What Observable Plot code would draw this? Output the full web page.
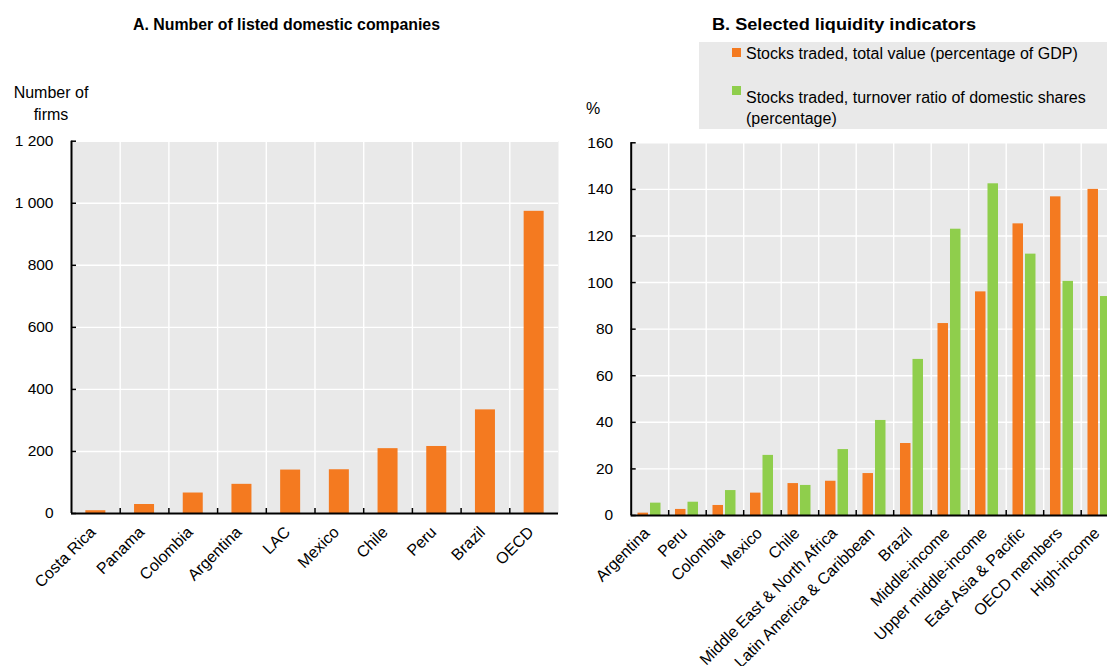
<!DOCTYPE html>
<html>
<head>
<meta charset="utf-8">
<script src="https://cdn.jsdelivr.net/npm/d3@7"></script>
<script src="https://cdn.jsdelivr.net/npm/@observablehq/plot@0.6"></script>
<style>
  html, body { margin: 0; padding: 0; }
  body { width: 1107px; height: 666px; overflow: hidden; position: relative; background: #fff;
         font-family: "Liberation Sans", Arial, sans-serif; color: #000; }
  .abs { position: absolute; white-space: nowrap; }
  .title { font-family: "Liberation Sans", Arial, sans-serif;
           font-weight: bold; font-size: 16px; line-height: 16px; transform-origin: 0 0; }
  .lbl { font-size: 16px; line-height: 16px; }
  .plotwrap { position: absolute; top: 0; }
  .plotwrap svg { max-width: none !important; display: block; }
</style>
</head>
<body>
<div id="titleA" class="abs title" style="left:133px; top:17px;" data-w="307">A. Number of listed domestic companies</div>
<div id="titleB" class="abs title" style="left:712px; top:17px;" data-w="264">B. Selected liquidity indicators</div>
<div class="abs" style="left:699px; top:42px; width:420px; height:87px; background:#e9e9e9;"></div>
<div id="legend"></div>
<div class="abs lbl" style="left:0px; width:102px; top:81.5px; line-height:22px; text-align:center;">Number of<br>firms</div>
<div class="abs lbl" style="left:586px; top:101px;">%</div>
<div id="chartA" class="plotwrap" style="left:0px;"></div>
<div id="chartB" class="plotwrap" style="left:580px;"></div>
<script>
// ---------- Data ----------
const categoriesA = ["Costa Rica", "Panama", "Colombia", "Argentina", "LAC", "Mexico", "Chile", "Peru", "Brazil", "OECD"];
const listedCompanies = [9, 29, 66, 94, 140, 141, 209, 216, 334, 974];
const yTicksA = [0, 200, 400, 600, 800, 1000, 1200];
const yTickLabelsA = ["0", "200", "400", "600", "800", "1 000", "1 200"];

const categoriesB = ["Argentina", "Peru", "Colombia", "Mexico", "Chile", "Middle East & North Africa",
  "Latin America & Caribbean", "Brazil", "Middle-income", "Upper middle-income",
  "East Asia & Pacific", "OECD members", "High-income"];
const totalValueGDP = [1.0, 2.6, 4.3, 9.6, 13.7, 14.7, 18.0, 30.9, 82.4, 96.0, 125.2, 136.8, 140.0];
const turnoverRatio = [5.3, 5.7, 10.7, 25.8, 12.9, 28.3, 40.8, 67.0, 122.9, 142.4, 112.2, 100.5, 94.0];
const yTicksB = [0, 20, 40, 60, 80, 100, 120, 140, 160];
const seriesNames = ["Stocks traded, total value (percentage of GDP)",
  "Stocks traded, turnover ratio of domestic shares (percentage)"];

// ---------- Style ----------
const ORANGE = "#f47a20", GREEN = "#8fce4c", GRAY = "#e9e9e9";
const FONT = "'Liberation Sans', Arial, sans-serif";

// ---------- Titles (condensed to match the narrow face) ----------
for (const id of ["titleA", "titleB"]) {
  const el = document.getElementById(id);
  const w = el.getBoundingClientRect().width;
  el.style.transform = `scaleX(${(+el.dataset.w) / w})`;
}

// ---------- Legend ----------
const legend = document.getElementById("legend");
legend.innerHTML = `
  <div class="abs" style="left:732px; top:48px; width:9px; height:9px; background:${ORANGE}"></div>
  <div class="abs lbl" style="left:746px; top:46px;">${seriesNames[0]}</div>
  <div class="abs" style="left:732px; top:86px; width:9px; height:9px; background:${GREEN}"></div>
  <div class="abs" style="left:746px; top:86.5px; font-size:16px; line-height:21.5px; white-space:normal; width:360px;">${seriesNames[1]}</div>
`;

// ---------- Panel A ----------
const dataA = categoriesA.map((c, i) => ({cat: c, value: listedCompanies[i]}));
const mlA = 71, wA = 487, mtA = 140.7, mbA = 153, HT = 666;
const hA = HT - mtA - mbA;
const stepA = wA / categoriesA.length;
const barW_A = 20;
const insA = (stepA - barW_A) / 2;

const plotA = Plot.plot({
  width: mlA + wA + 12, height: HT,
  marginLeft: mlA, marginRight: 12, marginTop: mtA, marginBottom: mbA,
  style: {fontFamily: FONT, fontSize: "15px", background: "transparent", overflow: "visible"},
  x: {domain: categoriesA, padding: 0, round: false, label: null},
  y: {domain: [0, 1200], label: null},
  marks: [
    Plot.frame({fill: GRAY, stroke: null}),
    Plot.gridY(yTicksA, {stroke: "#fff", strokeOpacity: 1, strokeWidth: 1.4}),
    Plot.tickX(categoriesA.slice(1), {x: d => d, dx: -stepA / 2, stroke: "#fff", strokeWidth: 1.4}),
    Plot.barY(dataA, {x: "cat", y: "value", fill: ORANGE, insetLeft: insA, insetRight: insA}),
    Plot.tickX(categoriesA.slice(1), {x: d => d, dx: -stepA / 2, stroke: "#000", strokeWidth: 1.5, insetTop: hA - 5}),
    Plot.tickY(yTicksA, {y: d => d, stroke: "#000", strokeWidth: 1.5, insetRight: wA - 5}),
    Plot.ruleY([0], {stroke: "#000", strokeWidth: 2}),
    Plot.tickX([categoriesA[0]], {x: d => d, dx: -stepA / 2, stroke: "#000", strokeWidth: 2}),
    Plot.axisY({ticks: yTicksA, tickSize: 0, tickPadding: 18, label: null,
      tickFormat: d => yTickLabelsA[yTicksA.indexOf(d)], fontSize: 15.5}),
    Plot.axisX({tickSize: 0, tickPadding: 16, dx: -3, tickRotate: -45, label: null, fontSize: 16})
  ]
});
document.getElementById("chartA").append(plotA);

// ---------- Panel B ----------
const dataB = categoriesB.map((c, i) => ({cat: c, total: totalValueGDP[i], turnover: turnoverRatio[i]}));
const mlB = 50.7, stepB = 37.5, wB = stepB * categoriesB.length, mtB = 142.3, mbB = 151;
const hB = HT - mtB - mbB;

const plotB = Plot.plot({
  width: mlB + wB + 10, height: HT,
  marginLeft: mlB, marginRight: 10, marginTop: mtB, marginBottom: mbB,
  style: {fontFamily: FONT, fontSize: "15px", background: "transparent", overflow: "visible"},
  x: {domain: categoriesB, padding: 0, round: false, label: null},
  y: {domain: [0, 160], label: null},
  marks: [
    Plot.frame({fill: GRAY, stroke: null}),
    Plot.gridY(yTicksB, {stroke: "#fff", strokeOpacity: 1, strokeWidth: 1.4}),
    Plot.tickX(categoriesB.slice(1), {x: d => d, dx: -stepB / 2, stroke: "#fff", strokeWidth: 1.4}),
    Plot.barY(dataB, {x: "cat", y: "total", fill: ORANGE, insetLeft: 6.8, insetRight: 20.2}),
    Plot.barY(dataB, {x: "cat", y: "turnover", fill: GREEN, insetLeft: 19.3, insetRight: 7.7}),
    Plot.tickX(categoriesB.slice(1), {x: d => d, dx: -stepB / 2, stroke: "#000", strokeWidth: 1.5, insetTop: hB - 5}),
    Plot.tickY(yTicksB, {y: d => d, stroke: "#000", strokeWidth: 1.5, insetRight: wB - 5}),
    Plot.ruleY([0], {stroke: "#000", strokeWidth: 2}),
    Plot.tickX([categoriesB[0]], {x: d => d, dx: -stepB / 2, stroke: "#000", strokeWidth: 2}),
    Plot.axisY({ticks: yTicksB, tickSize: 0, tickPadding: 18, label: null, fontSize: 15.5}),
    Plot.axisX({tickSize: 0, tickPadding: 15, dx: -3, tickRotate: -45, label: null, fontSize: 16})
  ]
});
document.getElementById("chartB").append(plotB);
</script>
</body>
</html>
